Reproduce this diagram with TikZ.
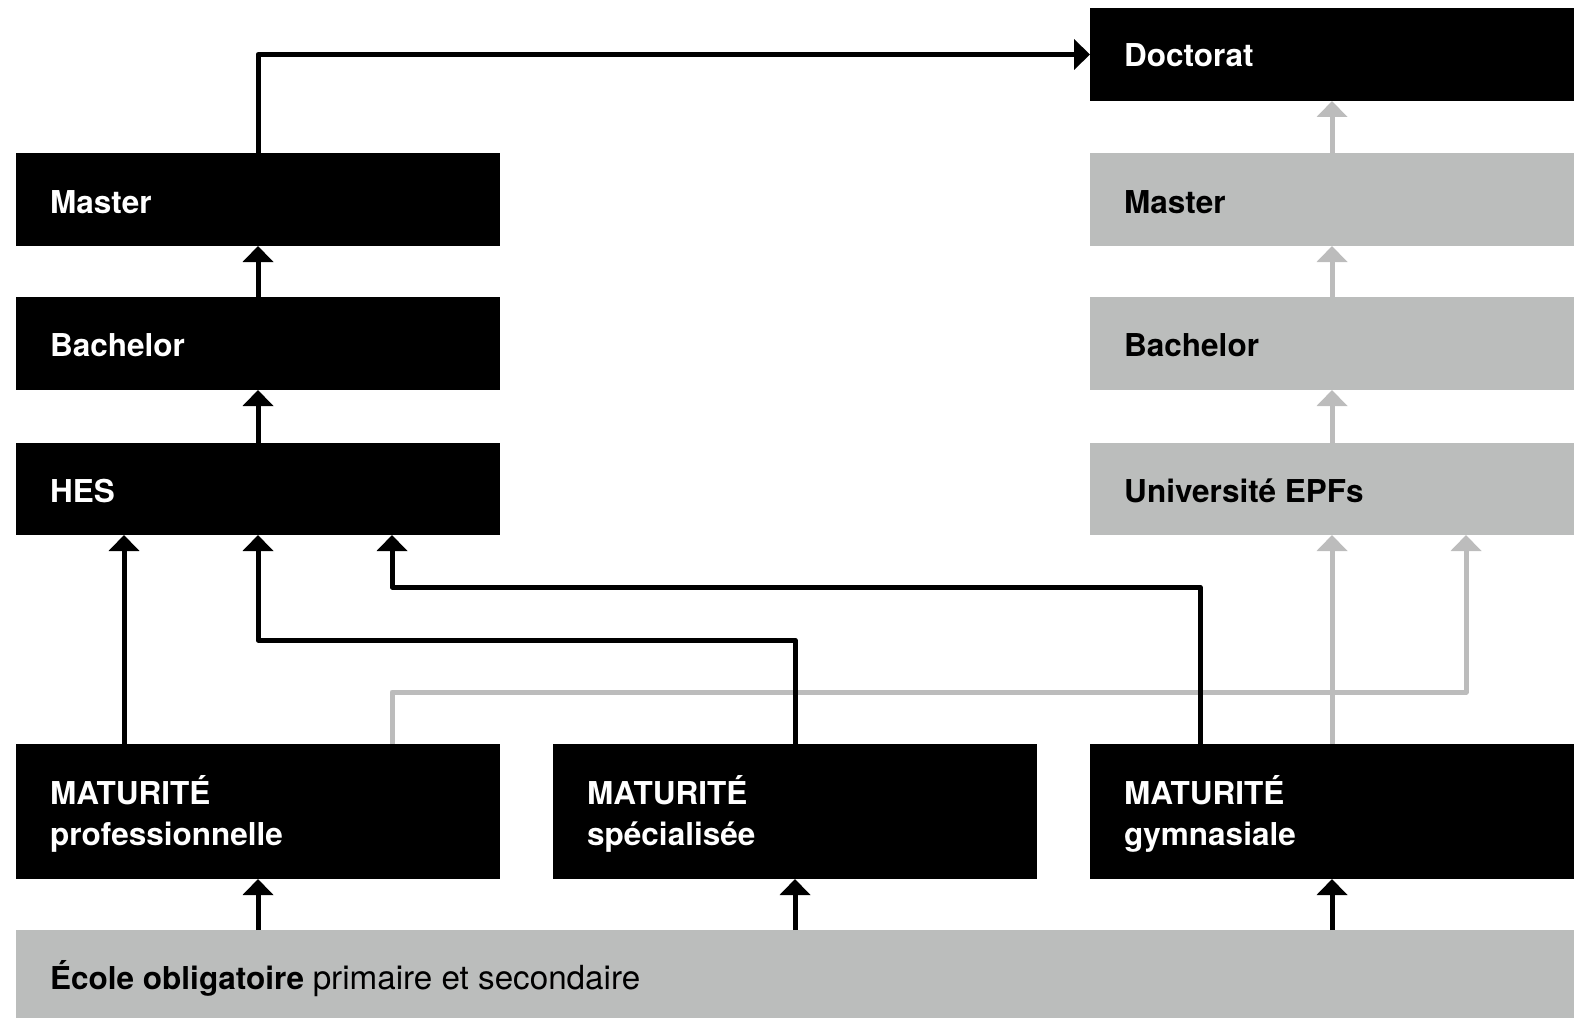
\documentclass[tikz,border=0pt]{standalone}
\usepackage{fontspec}
\setmainfont{TeX Gyre Heros}
\usetikzlibrary{arrows.meta,calc}
\definecolor{boxgray}{RGB}{187,189,188}
\definecolor{linegray}{RGB}{188,188,188}
\tikzset{
  box/.style={draw=none, minimum width=484pt, minimum height=93pt, inner sep=0pt, outer sep=0pt, anchor=north west},
  blkbox/.style={box, fill=black},
  grybox/.style={box, fill=boxgray},
  lbl/.style={anchor=base west, inner sep=0pt, font=\fontsize{31.5}{38}\selectfont},
  lblw/.style={lbl, text=white, font=\bfseries\fontsize{31.5}{38}\selectfont},
  lblk/.style={lbl, text=black, font=\bfseries\fontsize{31.5}{38}\selectfont},
  arr/.style={line width=5pt, line join=round, -{Triangle[width=30pt,length=16pt]}},
  blkarr/.style={arr, draw=black},
  gryarr/.style={arr, draw=linegray},
}
\begin{document}
\begin{tikzpicture}[x=1pt,y=-1pt]
\useasboundingbox (0,0) rectangle (1581,1019);
% boxes
\node[blkbox] (doc) at (1090,8) {};
\node[blkbox] (mastL) at (16,153) {};
\node[grybox] (mastR) at (1090,153) {};
\node[blkbox] (bachL) at (16,297) {};
\node[grybox] (bachR) at (1090,297) {};
\node[blkbox, minimum height=92pt] (hes) at (16,443) {};
\node[grybox, minimum height=92pt] (univ) at (1090,443) {};
\node[blkbox, minimum height=135pt] (matp) at (16,744) {};
\node[blkbox, minimum height=135pt] (mats) at (553,744) {};
\node[blkbox, minimum height=135pt] (matg) at (1090,744) {};
\node[grybox, minimum width=1558pt, minimum height=88pt] (ecole) at (16,930) {};
% labels
\node[lblw] (tdoc) at (1124,67) {Doctorat};
\node[lblw] (tmastL) at (50,213) {Master};
\node[lblk] (tmastR) at (1124,213) {Master};
\node[lblw] (tbachL) at (50,356) {Bachelor};
\node[lblk] (tbachR) at (1124,356) {Bachelor};
\node[lblw] (thes) at (50,502) {HES};
\node[lblk] (tuniv) at (1124,502) {Université EPFs};
\node[lblw] (tmatp1) at (50,804) {MATURITÉ};
\node[lblw] (tmatp2) at (50,845) {professionnelle};
\node[lblw] (tmats1) at (587,804) {MATURITÉ};
\node[lblw] (tmats2) at (587,845) {spécialisée};
\node[lblw] (tmatg1) at (1124,804) {MATURITÉ};
\node[lblw] (tmatg2) at (1124,845) {gymnasiale};
\node[lbl, text=black] (tecole) at (50,989) {\textbf{École obligatoire} {\fontsize{33.2}{38}\selectfont primaire et secondaire}};
% helper coordinates
\coordinate (xa) at (124,0);
\coordinate (xb) at (392,0);
\coordinate (xc) at (1200,0);
\coordinate (xd) at (1466,0);
\coordinate (c1) at (258,640);
\coordinate (c2) at (392,587);
\coordinate (g1) at (392,692);
\coordinate (g2) at (1466,692);
% gray connectors
\draw[gryarr] (univ.north) -- (bachR.south);
\draw[gryarr] (bachR.north) -- (mastR.south);
\draw[gryarr] (mastR.north) -- (doc.south);
\draw[gryarr] (matg.north) -- (univ.south);
\draw[gryarr] (matp.north -| xb) -- (g1) -- (g2) -- (univ.south -| xd);
% black connectors
\draw[blkarr] (hes.north) -- (bachL.south);
\draw[blkarr] (bachL.north) -- (mastL.south);
\draw[blkarr] (mastL.north) |- (doc.west);
\draw[blkarr] (matp.north -| xa) -- (hes.south -| xa);
\draw[blkarr] (mats.north) |- (c1) -- (hes.south);
\draw[blkarr] (matg.north -| xc) |- (c2) -- (hes.south -| xb);
\draw[blkarr] (ecole.north -| matp.south) -- (matp.south);
\draw[blkarr] (ecole.north -| mats.south) -- (mats.south);
\draw[blkarr] (ecole.north -| matg.south) -- (matg.south);
\end{tikzpicture}
\end{document}
